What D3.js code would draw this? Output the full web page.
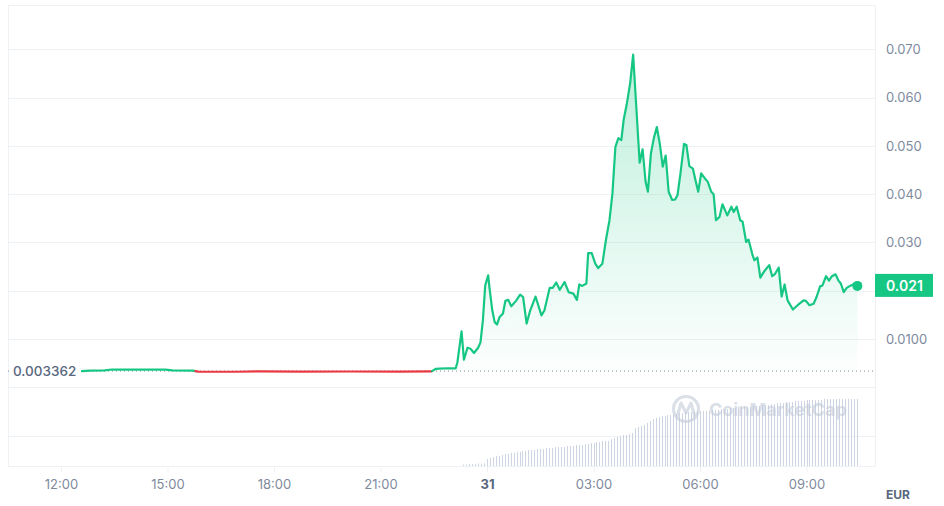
<!DOCTYPE html>
<html><head><meta charset="utf-8">
<script src="https://cdn.jsdelivr.net/npm/d3@7/dist/d3.min.js"></script>
<style>
html,body{margin:0;padding:0;background:#fff;}
svg{display:block;font-family:Inter,"Noto Sans",sans-serif;}
</style></head>
<body>
<svg id="chart" width="944" height="506"></svg>
<script>
// ---- DATA ----
const times = [
"2024-05-30T12:35","2024-05-30T12:49","2024-05-30T13:14","2024-05-30T13:26","2024-05-30T14:56","2024-05-30T15:08",
"2024-05-30T15:43","2024-05-30T15:52","2024-05-30T16:57","2024-05-30T17:36","2024-05-30T18:44","2024-05-30T20:08",
"2024-05-30T21:32","2024-05-30T22:26","2024-05-30T22:33","2024-05-30T22:40","2024-05-30T22:53","2024-05-30T23:07",
"2024-05-30T23:10","2024-05-30T23:17","2024-05-30T23:21","2024-05-30T23:27","2024-05-30T23:32","2024-05-30T23:38",
"2024-05-30T23:45","2024-05-30T23:49","2024-05-30T23:53","2024-05-30T23:57","2024-05-31T00:02","2024-05-31T00:04",
"2024-05-31T00:09","2024-05-31T00:13","2024-05-31T00:17","2024-05-31T00:21","2024-05-31T00:27","2024-05-31T00:31",
"2024-05-31T00:36","2024-05-31T00:41","2024-05-31T00:49","2024-05-31T00:56","2024-05-31T01:01","2024-05-31T01:07",
"2024-05-31T01:13","2024-05-31T01:22","2024-05-31T01:32","2024-05-31T01:37","2024-05-31T01:46","2024-05-31T01:51",
"2024-05-31T01:57","2024-05-31T02:03","2024-05-31T02:11","2024-05-31T02:18","2024-05-31T02:26","2024-05-31T02:32",
"2024-05-31T02:36","2024-05-31T02:41","2024-05-31T02:48","2024-05-31T02:51","2024-05-31T02:57","2024-05-31T03:03",
"2024-05-31T03:08","2024-05-31T03:15","2024-05-31T03:21","2024-05-31T03:27","2024-05-31T03:32","2024-05-31T03:37",
"2024-05-31T03:42","2024-05-31T03:47","2024-05-31T03:51","2024-05-31T03:56","2024-05-31T04:02","2024-05-31T04:07",
"2024-05-31T04:18","2024-05-31T04:23","2024-05-31T04:28","2024-05-31T04:32","2024-05-31T04:37","2024-05-31T04:42",
"2024-05-31T04:47","2024-05-31T04:52","2024-05-31T04:57","2024-05-31T05:02","2024-05-31T05:07","2024-05-31T05:13",
"2024-05-31T05:18","2024-05-31T05:22","2024-05-31T05:27","2024-05-31T05:33","2024-05-31T05:37","2024-05-31T05:42",
"2024-05-31T05:48","2024-05-31T05:52","2024-05-31T05:57","2024-05-31T06:02","2024-05-31T06:08","2024-05-31T06:13",
"2024-05-31T06:19","2024-05-31T06:23","2024-05-31T06:27","2024-05-31T06:33","2024-05-31T06:38","2024-05-31T06:46",
"2024-05-31T06:53","2024-05-31T06:57","2024-05-31T07:02","2024-05-31T07:08","2024-05-31T07:12","2024-05-31T07:18",
"2024-05-31T07:22","2024-05-31T07:29","2024-05-31T07:32","2024-05-31T07:37","2024-05-31T07:42","2024-05-31T07:49",
"2024-05-31T07:57","2024-05-31T08:02","2024-05-31T08:07","2024-05-31T08:13","2024-05-31T08:18","2024-05-31T08:23",
"2024-05-31T08:28","2024-05-31T08:37","2024-05-31T08:45","2024-05-31T08:55","2024-05-31T08:59","2024-05-31T09:05",
"2024-05-31T09:12","2024-05-31T09:17","2024-05-31T09:23","2024-05-31T09:27","2024-05-31T09:33","2024-05-31T09:38",
"2024-05-31T09:43","2024-05-31T09:49","2024-05-31T09:54","2024-05-31T09:58","2024-05-31T10:03","2024-05-31T10:08",
"2024-05-31T10:15","2024-05-31T10:21","2024-05-31T10:26"
];
const prices = [
0.003362,0.00345,0.00350,0.00368,0.00366,0.00350,
0.00345,0.00326,0.00322,0.00330,0.00326,0.00327,
0.00326,0.00328,0.00380,0.00385,0.00395,0.00390,
0.0052,0.0116,0.0057,0.0082,0.0080,0.0071,
0.0082,0.0093,0.0138,0.0211,0.0232,0.0208,
0.0159,0.0135,0.0130,0.0145,0.0153,0.0179,
0.0181,0.0168,0.0179,0.0192,0.0187,0.0132,
0.0159,0.0188,0.0149,0.0159,0.0206,0.0206,
0.0217,0.0202,0.0218,0.0197,0.0194,0.0181,
0.0213,0.0210,0.0215,0.0278,0.0278,0.0256,
0.0247,0.0256,0.0305,0.0346,0.0401,0.0498,
0.0516,0.0512,0.0554,0.0585,0.0630,0.0689,
0.0465,0.0493,0.0426,0.0405,0.0484,0.0516,
0.0539,0.0505,0.0457,0.0480,0.0405,0.0388,
0.0389,0.0398,0.0443,0.0504,0.0502,0.0458,
0.0453,0.0431,0.0405,0.0443,0.0433,0.0426,
0.0405,0.0400,0.0346,0.0353,0.0379,0.0356,
0.0374,0.0363,0.0374,0.0346,0.0343,0.0301,
0.0306,0.0273,0.0263,0.0269,0.0227,0.0241,
0.0253,0.0230,0.0235,0.0248,0.0188,0.0213,
0.0180,0.0161,0.0170,0.0180,0.0179,0.0170,
0.0173,0.0187,0.0209,0.0211,0.0230,0.0221,
0.0230,0.0234,0.0221,0.0215,0.0197,0.0206,
0.0211,0.0214,0.0210
];
const basePrice = 0.003362;
const baseLabel = "0.003362";
const lastLabel = "0.021";
// volume bars (thousand EUR), one every 5 minutes from 23:20
const volumeStart = "2024-05-30T23:20";
const volumes = [
1.5,1.5,2,2,2,2.5,2.5,2.5,
7,8,9,10,10,11,12,
12,13,13,14,14,15,15,16,16,16,17,
17,17,18,18,18,19,19,19,19,20,20,
20,21,21,21,22,22,23,23,24,24,25,25,25,
27,28,29,30,31,31,32,33,
38,39,40,41,43,45,47,
48,49,50,50,51,
51,52,52,53,53,54,54,54,55,55,55,55,
55,55,56,56,56,57,57,57,58,58,58,59,59,59,59,59,60,60,60,61,61,
61,62,62,63,63,63,64,64,64,65,
65,65,65,66,66,66,66,66,66,67,67,67,67,67,67,67,67,67,67,67,67
];
const xTickTimes = ["2024-05-30T12:00","2024-05-30T15:00","2024-05-30T18:00","2024-05-30T21:00","2024-05-31T00:00","2024-05-31T03:00","2024-05-31T06:00","2024-05-31T09:00"];
const xTickLabels = ["12:00","15:00","18:00","21:00","31","03:00","06:00","09:00"];
const yTickValues = [0.01,0.03,0.04,0.05,0.06,0.07];
const yTickLabels = ["0.0100","0.030","0.040","0.050","0.060","0.070"];
const gridValues = [-0.01,0,0.01,0.02,0.03,0.04,0.05,0.06,0.07];

// ---- CHART ----
const parse = d3.isoParse;
const data = times.map((t,i)=>({t:parse(t), v:prices[i]}));
const t0 = parse(volumeStart);
const vdata = volumes.map((v,i)=>({t:d3.timeMinute.offset(t0, 5*i), v}));

const green = "#16c784", red = "#ea3943", gridC = "#eff2f5", txt = "#808a9d";
const L = 8, R = 875, T = 5, B = 466;

const x = d3.scaleTime().domain([parse("2024-05-30T12:00"), parse("2024-05-31T00:00")]).range([61, 487]);
const y = d3.scaleLinear().domain([0, 0.07]).range([387.3, 49.3]);
const yv = d3.scaleLinear().domain([0, 79]).range([B, 387]);

const svg = d3.select("#chart");
const defs = svg.append("defs");
const grad = defs.append("linearGradient").attr("id","fillG").attr("gradientUnits","userSpaceOnUse")
  .attr("x1",0).attr("x2",0).attr("y1",y(d3.max(prices))).attr("y2",y(basePrice));
grad.append("stop").attr("offset",0).attr("stop-color",green).attr("stop-opacity",0.28);
grad.append("stop").attr("offset",1).attr("stop-color",green).attr("stop-opacity",0.01);

// grid
svg.append("g").selectAll("line").data(gridValues).join("line")
  .attr("x1",L).attr("x2",R).attr("y1",d=>Math.round(y(d))+0.5).attr("y2",d=>Math.round(y(d))+0.5)
  .attr("stroke",gridC).attr("stroke-width",1);
svg.append("rect").attr("x",L+0.5).attr("y",T+0.5).attr("width",R-L).attr("height",B-T)
  .attr("fill","none").attr("stroke",gridC).attr("stroke-width",1);

// volume bars
svg.append("g").selectAll("line").data(vdata).join("line")
  .attr("x1",d=>Math.round(x(d.t))+0.5).attr("x2",d=>Math.round(x(d.t))+0.5)
  .attr("y1",B).attr("y2",d=>yv(d.v))
  .attr("stroke","#cdd4e4").attr("stroke-width",1);

// watermark
const wmC = "#c3cad9";
const wm = svg.append("g").attr("opacity",0.6);
wm.append("circle").attr("cx",686).attr("cy",409).attr("r",12.5).attr("fill","none").attr("stroke",wmC).attr("stroke-width",3);
wm.append("path").attr("d","M677,417 L681,403 L686,413 L691,403 L695,417").attr("fill","none").attr("stroke",wmC).attr("stroke-width",3).attr("stroke-linejoin","round");
wm.append("text").attr("x",709).attr("y",416).attr("font-size",18).attr("font-weight",700).attr("fill",wmC).text("CoinMarketCap");

// baseline dotted
svg.append("line").attr("x1",L).attr("x2",R).attr("y1",y(basePrice)).attr("y2",y(basePrice))
  .attr("stroke","#808a9d").attr("stroke-width",1).attr("stroke-dasharray","1,3");

// area
const area = d3.area().x(d=>x(d.t)).y0(y(basePrice)).y1(d=>y(d.v));
svg.append("path").datum(data).attr("d",area).attr("fill","url(#fillG)");

// line segments coloured by side of base
const pts = data.map(d=>({px:x(d.t), py:y(d.v), up:d.v>=basePrice, v:d.v}));
const segs = [];
let cur = {up:pts[0].up, p:[[pts[0].px,pts[0].py]]};
for (let i=1;i<pts.length;i++){
  const a=pts[i-1], b=pts[i];
  if (b.up===cur.up){ cur.p.push([b.px,b.py]); }
  else {
    const f=(basePrice-a.v)/(b.v-a.v);
    const cx=a.px+(b.px-a.px)*f, cy=y(basePrice);
    cur.p.push([cx,cy]); segs.push(cur);
    cur={up:b.up,p:[[cx,cy],[b.px,b.py]]};
  }
}
segs.push(cur);
const line = d3.line();
svg.append("g").selectAll("path").data(segs).join("path")
  .attr("d",d=>line(d.p)).attr("fill","none")
  .attr("stroke",d=>d.up?green:red).attr("stroke-width",2.2)
  .attr("stroke-linejoin","round").attr("stroke-linecap","round");

// end dot
const last = data[data.length-1];
svg.append("circle").attr("cx",x(last.t)).attr("cy",y(last.v)).attr("r",5).attr("fill",green);

// base label
svg.append("rect").attr("x",11).attr("y",y(basePrice)-9).attr("width",70).attr("height",18).attr("fill","#fff");
svg.append("text").attr("x",13).attr("y",y(basePrice)).attr("dy","0.35em").attr("font-size",13.5).attr("font-weight",500)
  .attr("fill","#58667e").text(baseLabel);

// y axis
const yAxis = d3.axisRight(y).tickValues(yTickValues).tickFormat((d,i)=>yTickLabels[i]).tickSize(0).tickPadding(0);
const gy = svg.append("g").attr("transform",`translate(886,0)`).call(yAxis);
gy.select(".domain").remove();
gy.selectAll("text").attr("font-size",13).attr("fill",txt).attr("font-family","Inter, sans-serif");

// badge
svg.append("rect").attr("x",875).attr("y",y(last.v)-12).attr("width",58).attr("height",23).attr("fill",green);
svg.append("text").attr("x",886).attr("y",y(last.v)).attr("dy","0.35em").attr("font-size",14).attr("font-weight",600)
  .attr("fill","#fff").text(lastLabel);

// x axis
const xt = xTickTimes.map(parse);
const xAxis = d3.axisBottom(x).tickValues(xt).tickFormat((d,i)=>xTickLabels[i]).tickSize(6).tickPadding(8);
const gx = svg.append("g").attr("transform",`translate(0,${B})`).call(xAxis);
gx.select(".domain").remove();
gx.selectAll(".tick line").attr("stroke",gridC);
gx.selectAll("text").attr("font-size",13).attr("font-family","Inter, sans-serif")
  .attr("font-weight",(d,i)=>xTickLabels[i]==="31"?700:400)
  .attr("fill",(d,i)=>xTickLabels[i]==="31"?"#58667e":txt);

svg.append("text").attr("x",886).attr("y",499).attr("font-size",12).attr("font-weight",700).attr("fill","#58667e").text("EUR");
</script>
</body></html>
